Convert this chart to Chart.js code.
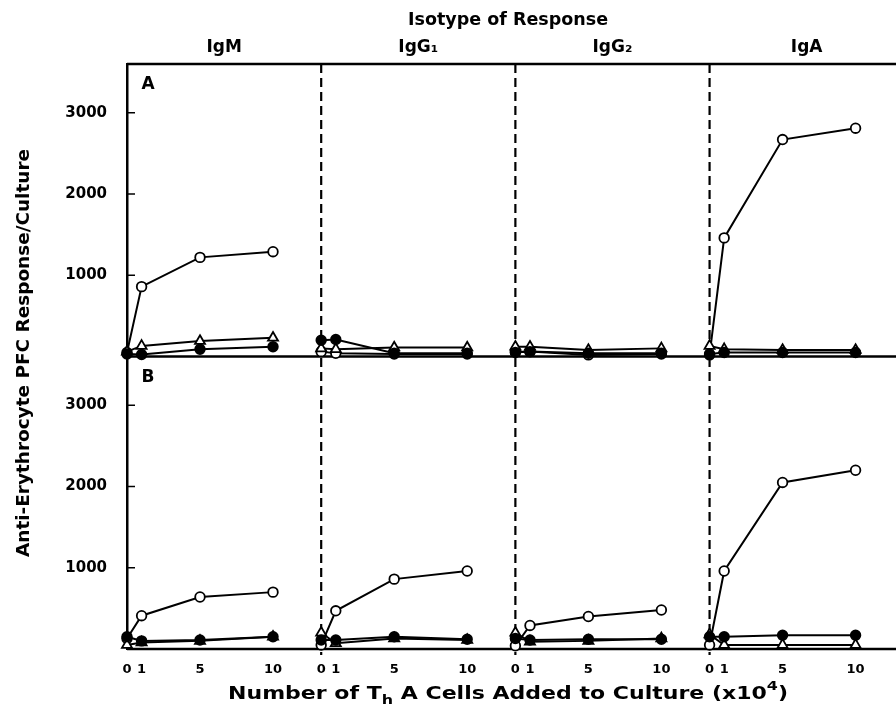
<!DOCTYPE html>
<html>
<head>
<meta charset="utf-8">
<script src="https://cdn.jsdelivr.net/npm/chart.js@4.4.1/dist/chart.umd.min.js"></script>
<style>
  html, body { margin: 0; padding: 0; background: #fff; overflow: hidden; }
</style>
</head>
<body>
<canvas id="chart" width="896" height="711"></canvas>
<script>
const isotypes = ["IgM", "IgG₁", "IgG₂", "IgA"];
const cellsAdded = [0, 1, 5, 10];
const xTickLabels = ["0", "1", "5", "10"];
const yTickValues = [1000, 2000, 3000];

// panel A, one row per isotype (IgM, IgG1, IgG2, IgA)
const aOpen   = [[50, 860, 1220, 1290], [60, 40, 30, 30], [60, 60, 20, 30], [20, 1460, 2670, 2810]];
const aFilled = [[30, 25, 90, 120], [200, 210, 40, 40], [50, 60, 40, 40], [30, 50, 50, 50]];
const aTri    = [[60, 130, 190, 230], [100, 90, 110, 110], [120, 120, 80, 100], [130, 90, 80, 80]];

// panel B
const bOpen   = [[130, 410, 640, 700], [50, 470, 860, 960], [40, 290, 400, 480], [50, 960, 2050, 2200]];
const bFilled = [[150, 100, 110, 150], [110, 110, 150, 120], [130, 110, 120, 120], [150, 150, 170, 170]];
const bTri    = [[50, 80, 100, 150], [200, 70, 130, 110], [200, 90, 100, 130], [180, 50, 50, 50]];

const SPAN = 13.3;     // x units taken by each isotype block
const X_MAX = 52.6;
const FONT = "DejaVu Sans";

const openStyle = { pointStyle: 'circle', pointRadius: 4.8, pointBackgroundColor: '#fff' };
const filledStyle = { pointStyle: 'circle', pointRadius: 4.8, pointBackgroundColor: '#000' };
const triStyle = { pointStyle: 'triangle', pointRadius: 5.8, pointBackgroundColor: '#fff' };

const datasets = [];
function addSeries(axis, rows, style) {
  rows.forEach((vals, i) => {
    datasets.push(Object.assign({
      yAxisID: axis,
      data: vals.map((v, j) => ({ x: i * SPAN + cellsAdded[j], y: v })),
      borderColor: '#000',
      borderWidth: 2,
      pointBorderColor: '#000',
      pointBorderWidth: 1.8,
      tension: 0,
      clip: false
    }, style));
  });
}
addSeries('yA', aFilled, filledStyle);
addSeries('yA', aTri, triStyle);
addSeries('yA', aOpen, openStyle);
addSeries('yB', bFilled, filledStyle);
addSeries('yB', bTri, triStyle);
addSeries('yB', bOpen, openStyle);

function yAxis(weight) {
  return {
    type: 'linear', position: 'left', stack: 'panels', stackWeight: 1, weight: weight,
    min: 0, max: 3600,
    grid: { display: false },
    border: { display: true, color: '#000', width: 2.5 },
    afterBuildTicks: s => { s.ticks = yTickValues.map(v => ({ value: v })); },
    afterFit: s => { s.width = 127; },
    ticks: {
      padding: 12, color: '#000', font: { family: FONT, size: 15, weight: 'bold' },
      callback: v => String(v)
    }
  };
}

function line(ctx, x1, y1, x2, y2) {
  ctx.beginPath(); ctx.moveTo(x1, y1); ctx.lineTo(x2, y2); ctx.stroke();
}

// draws text stretched horizontally to a given width, centred on cx
function wideText(ctx, parts, cx, y, width) {
  let total = 0;
  parts.forEach(p => { ctx.font = `bold ${p[1]}px "${FONT}"`; total += ctx.measureText(p[0]).width; });
  const k = width / total;
  ctx.save();
  ctx.translate(cx - width / 2, y);
  ctx.scale(k, 1);
  ctx.textAlign = 'left';
  ctx.textBaseline = 'alphabetic';
  let x = 0;
  parts.forEach(p => {
    ctx.font = `bold ${p[1]}px "${FONT}"`;
    ctx.fillText(p[0], x, p[2]);
    x += ctx.measureText(p[0]).width;
  });
  ctx.restore();
}

const decor = {
  id: 'decor',
  beforeDatasetsDraw(chart) {
    const { ctx, chartArea: a, scales } = chart;
    ctx.save();
    ctx.strokeStyle = '#000';
    ctx.lineWidth = 2.5;
    line(ctx, a.left, a.top, 896, a.top);
    line(ctx, a.left, scales.yB.top, 896, scales.yB.top);
    line(ctx, a.left, a.bottom, 896, a.bottom);
    ctx.lineWidth = 1.5;
    ['yA', 'yB'].forEach(id => {
      yTickValues.forEach(v => {
        const y = scales[id].getPixelForValue(v);
        line(ctx, a.left, y, a.left + 8, y);
      });
    });
    ctx.setLineDash([9, 5]);
    ctx.lineWidth = 2.2;
    for (let i = 1; i < 4; i++) {
      const x = scales.x.getPixelForValue(i * SPAN);
      line(ctx, x, a.top, x, a.bottom + 6);
    }
    ctx.restore();
  },
  afterDraw(chart) {
    const { ctx, scales } = chart;
    ctx.save();
    ctx.fillStyle = '#000';
    wideText(ctx, [['Isotype of Response', 18, 0]], 508, 25, 200);
    ctx.textAlign = 'center';
    ctx.textBaseline = 'middle';
    ctx.font = `bold 17px "${FONT}"`;
    isotypes.forEach((name, i) => {
      const x = scales.x.getPixelForValue(i * SPAN + SPAN / 2);
      ctx.fillText(name, x, 48);
    });
    ctx.fillText('A', 148, 85);
    ctx.fillText('B', 148, 378);

    ctx.save();
    ctx.translate(23, 353);
    ctx.rotate(-Math.PI / 2);
    wideText(ctx, [['Anti-Erythrocyte PFC Response/Culture', 17, 0]], 0, 6, 408);
    ctx.restore();

    wideText(ctx, [
      ['Number of T', 18, 0], ['h', 13, 5], [' A Cells Added to Culture (x10', 18, 0], ['4', 13, -9], [')', 18, 0]
    ], 508, 699, 560);
    ctx.restore();
  }
};

new Chart(document.getElementById('chart'), {
  type: 'line',
  data: { datasets: datasets },
  options: {
    responsive: false,
    animation: false,
    layout: { autoPadding: false, padding: { top: 64, right: 1, left: 0, bottom: 0 } },
    plugins: { legend: { display: false }, tooltip: { enabled: false } },
    scales: {
      x: {
        type: 'linear', min: 0, max: X_MAX,
        grid: { display: false },
        border: { display: false },
        afterBuildTicks: s => {
          const t = [];
          for (let i = 0; i < 4; i++) cellsAdded.forEach(v => t.push({ value: i * SPAN + v }));
          s.ticks = t;
        },
        afterFit: s => { s.height = 62; },
        ticks: {
          autoSkip: false, maxRotation: 0, padding: 5, color: '#000',
          font: { family: FONT, size: 13, weight: 'bold' },
          callback: (v, i) => xTickLabels[i % 4]
        }
      },
      yA: yAxis(1),
      yB: yAxis(0)
    }
  },
  plugins: [decor]
});
</script>
</body>
</html>
